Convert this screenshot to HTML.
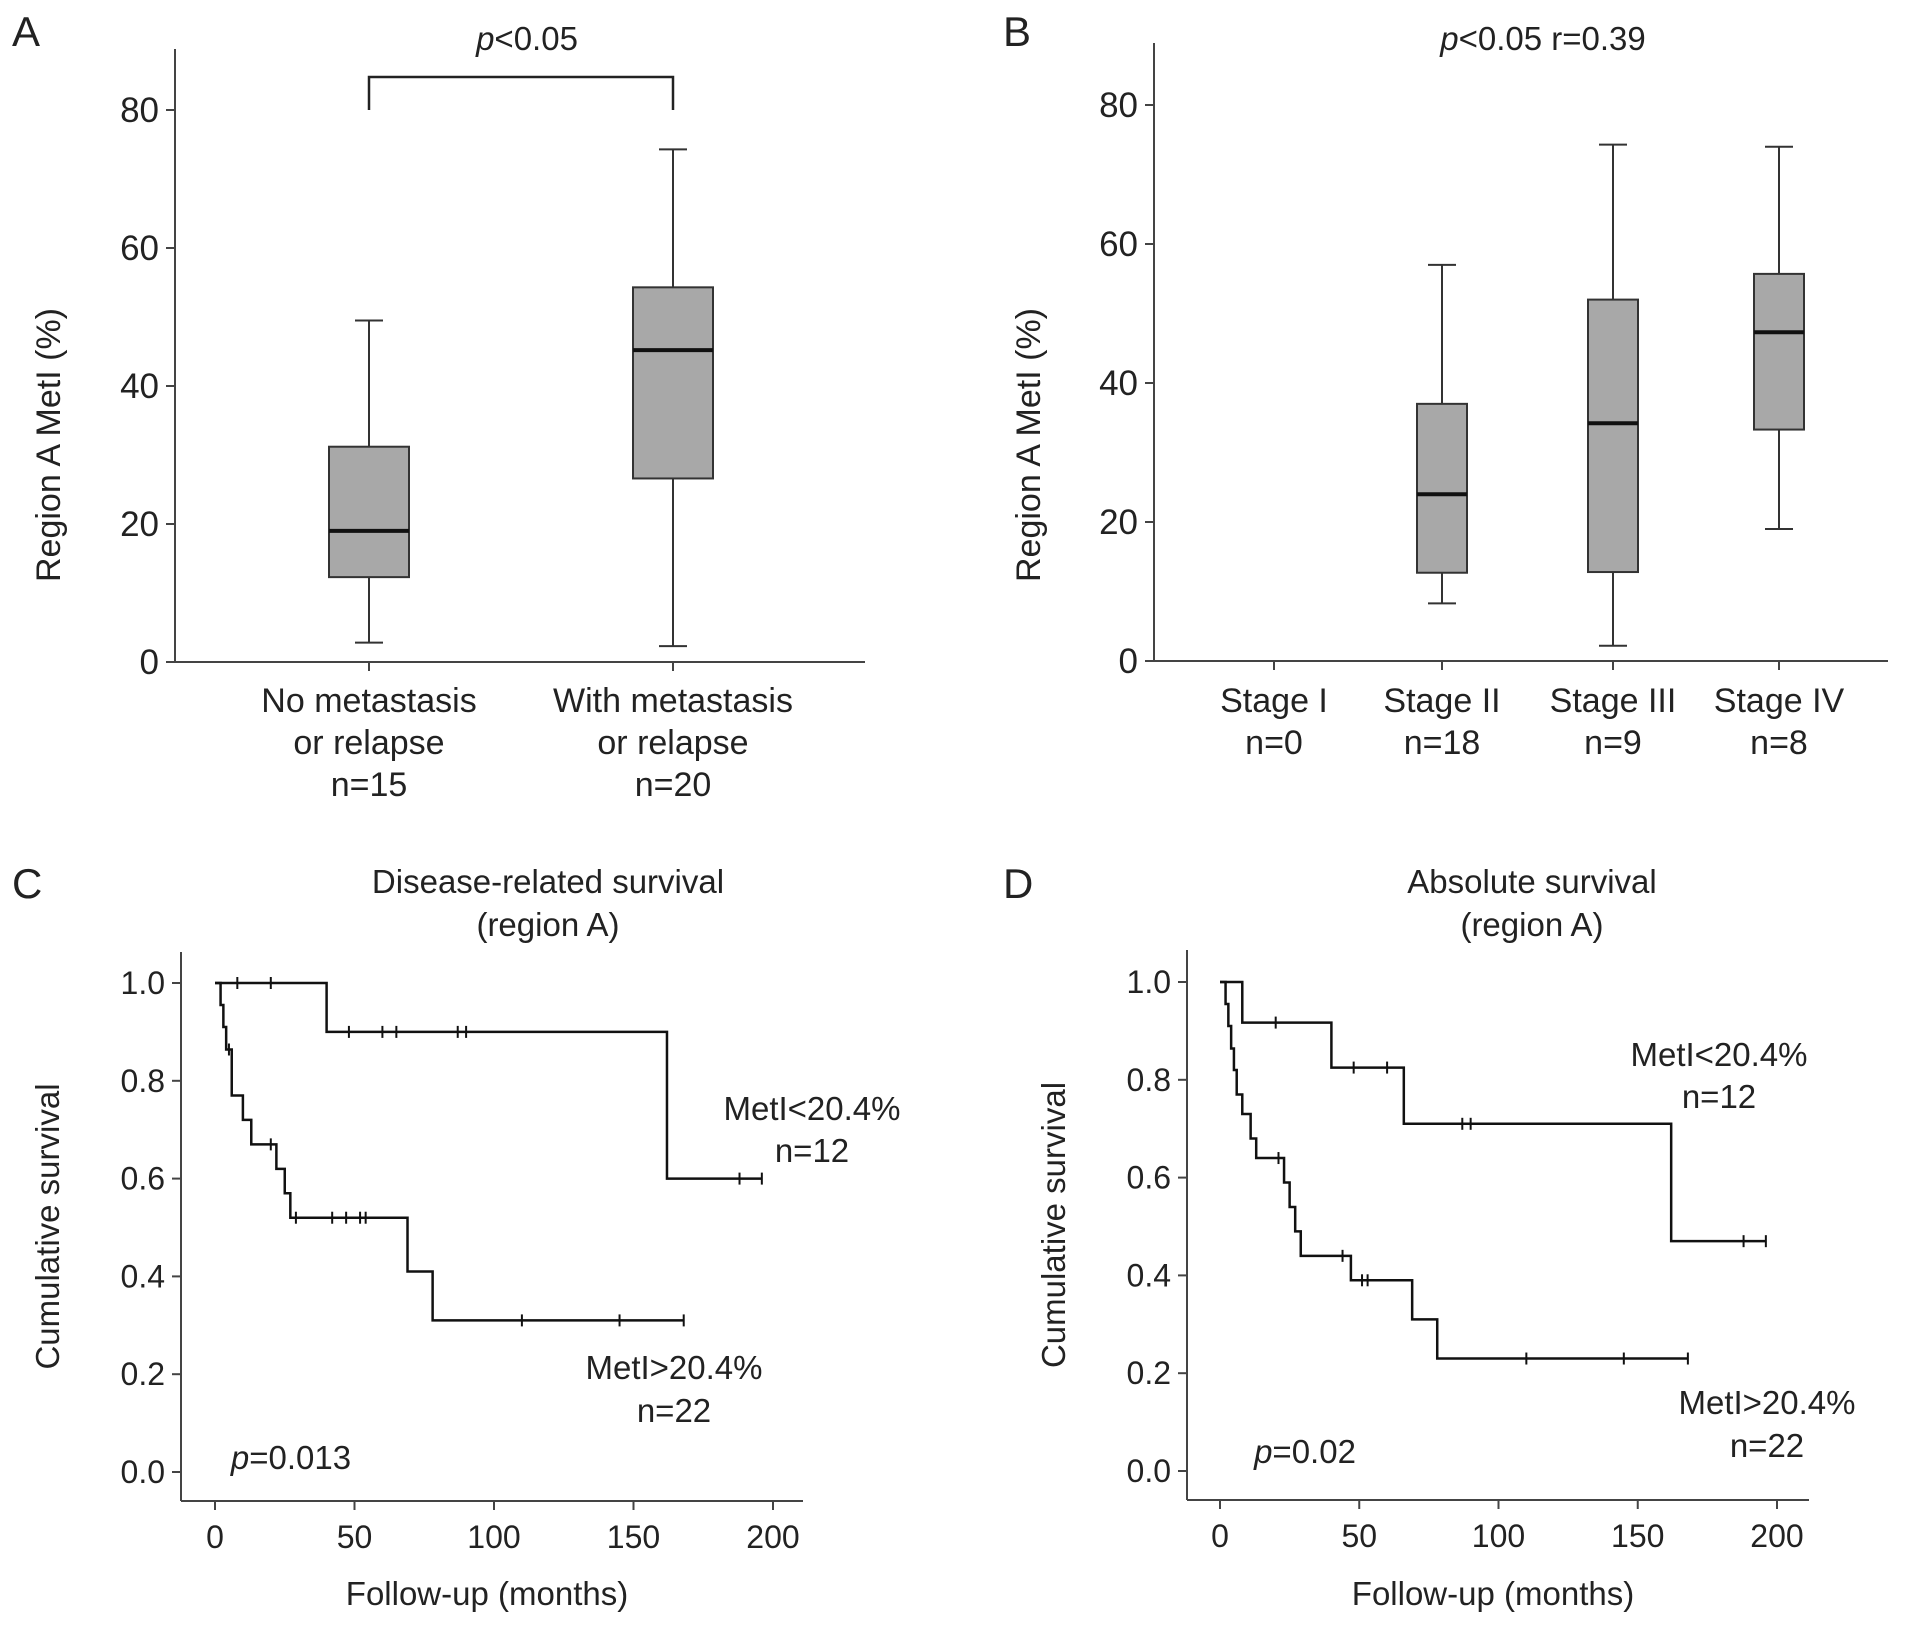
<!DOCTYPE html>
<html><head><meta charset="utf-8"><style>
html,body{margin:0;padding:0;background:#fff;}
svg{display:block;font-family:"Liberation Sans",sans-serif;}
</style></head><body>
<svg id="fig" width="1913" height="1627" viewBox="0 0 1913 1627" xmlns="http://www.w3.org/2000/svg"></svg>
<script>
// ---- Panel A data ----
const aCategories = [["No metastasis","or relapse","n=15"],["With metastasis","or relapse","n=20"]];
const aLow = [2.8, 2.3];
const aQ1 = [12.3, 26.6];
const aMedian = [19, 45.2];
const aQ3 = [31.2, 54.3];
const aHigh = [49.5, 74.3];
const yTicksAB = [0, 20, 40, 60, 80];
// ---- Panel B data ----
const bCategories = [["Stage I","n=0"],["Stage II","n=18"],["Stage III","n=9"],["Stage IV","n=8"]];
const bLow = [null, 8.3, 2.2, 19];
const bQ1 = [null, 12.7, 12.8, 33.3];
const bMedian = [null, 24, 34.2, 47.3];
const bQ3 = [null, 37, 52, 55.7];
const bHigh = [null, 57, 74.3, 74];
// ---- Panel C data (KM) ----
const cLowTimes = [0, 40, 162, 196];
const cLowSurv = [1.0, 0.9, 0.6, 0.6];
const cLowCens = [8, 20, 48, 60, 65, 87, 90, 188, 196];
const cHighTimes = [0, 2, 3, 4, 6, 10, 13, 22, 25, 27, 69, 78, 168];
const cHighSurv = [1.0, 0.955, 0.91, 0.864, 0.77, 0.72, 0.67, 0.62, 0.57, 0.52, 0.41, 0.31, 0.31];
const cHighCens = [5, 20, 29, 42, 47, 52, 54, 110, 145, 168];
// ---- Panel D data (KM) ----
const dLowTimes = [0, 8, 40, 66, 162, 196];
const dLowSurv = [1.0, 0.917, 0.825, 0.71, 0.47, 0.47];
const dLowCens = [20, 48, 60, 87, 90, 188, 196];
const dHighTimes = [0, 2, 3, 4, 5, 6, 8, 11, 13, 23, 25, 27, 29, 47, 69, 78, 168];
const dHighSurv = [1.0, 0.955, 0.91, 0.864, 0.82, 0.77, 0.73, 0.68, 0.64, 0.59, 0.54, 0.49, 0.44, 0.39, 0.31, 0.23, 0.23];
const dHighCens = [21, 44, 51, 53, 110, 145, 168];
const survTicks = [0, 0.2, 0.4, 0.6, 0.8, 1.0];
const timeTicks = [0, 50, 100, 150, 200];

const NS = "http://www.w3.org/2000/svg";
const svg = document.getElementById('fig');
function mk(tag, attrs, parent){const e=document.createElementNS(NS,tag);for(const k in attrs)e.setAttribute(k,attrs[k]);(parent||svg).appendChild(e);return e;}
function txt(x,y,s,size,anchor,parent,italicP){const t=mk('text',{x:x,y:y,'font-size':size,'text-anchor':anchor||'middle',fill:'#222'},parent);
  if(italicP){const ts=mk('tspan',{'font-style':'italic'},t);ts.textContent='p';const r=mk('tspan',{},t);r.textContent=s;}else t.textContent=s;return t;}
const AX='#444';

function boxPanel(name, letter, lx, ax, y0, yTop80, top, xEnd, cats, cx, hw, low, q1, med, q3, high){
  const g=mk('g',{});
  
  
  const ys=v=>y0-(v/80)*(y0-yTop80);
  const L=txt(lx,46,letter,42,'start',g);
  
  
  const yAx=mk('line',{x1:ax,y1:top,x2:ax,y2:y0,stroke:AX,'stroke-width':2},g);
  
  
  const xAx=mk('line',{x1:ax,y1:y0,x2:xEnd,y2:y0,stroke:AX,'stroke-width':2},g);
  
  
  yTicksAB.forEach(v=>{mk('line',{x1:ax-9,y1:ys(v),x2:ax,y2:ys(v),stroke:AX,'stroke-width':2},g);
    const t=txt(ax-16,ys(v)+12,String(v),35,'end',g);
    
    });
  cats.forEach((c,i)=>{const x=cx[i];
    mk('line',{x1:x,y1:y0,x2:x,y2:y0+9,stroke:AX,'stroke-width':2},g);
    c.forEach((line,j)=>{const t=txt(x,712+j*42,line,34,'middle',g);
      
      });
    if(low[i]==null)return;
    const bg=mk('g',{},g);
    
    
    mk('line',{x1:x,y1:ys(low[i]),x2:x,y2:ys(high[i]),stroke:'#333','stroke-width':2},bg);
    mk('line',{x1:x-14,y1:ys(low[i]),x2:x+14,y2:ys(low[i]),stroke:'#333','stroke-width':2},bg);
    mk('line',{x1:x-14,y1:ys(high[i]),x2:x+14,y2:ys(high[i]),stroke:'#333','stroke-width':2},bg);
    mk('rect',{x:x-hw,y:ys(q3[i]),width:2*hw,height:ys(q1[i])-ys(q3[i]),fill:'#a8a8a8',stroke:'#333','stroke-width':2},bg);
    mk('line',{x1:x-hw,y1:ys(med[i]),x2:x+hw,y2:ys(med[i]),stroke:'#111','stroke-width':4},bg);
  });
  return {g:g,ys:ys};
}
const A=boxPanel('panel-a-boxplot','A',12,175,662,110,49,865,aCategories,[369,673],40,aLow,aQ1,aMedian,aQ3,aHigh);
let t=txt(60,445,'Region A MetI (%)',34,'middle',A.g);t.setAttribute('transform','rotate(-90 60 445)');


const br=mk('path',{d:'M369 110 V77 H673 V110',fill:'none',stroke:'#222','stroke-width':2.5},A.g);


t=txt(527,50,'<0.05',33,'middle',A.g,true);



const B=boxPanel('panel-b-boxplot','B',1003,1154,661,105,43,1888,bCategories,[1274,1442,1613,1779],25,bLow,bQ1,bMedian,bQ3,bHigh);
t=txt(1040,445,'Region A MetI (%)',34,'middle',B.g);t.setAttribute('transform','rotate(-90 1040 445)');


t=txt(1543,50,'<0.05 r=0.39',33,'middle',B.g,true);



function kmPanel(name, letter, lx, ax, y1, y0, top, xAxY, x0, x200, xEnd, title, titleX, series, labels){
  const g=mk('g',{});
  
  
  const ys=v=>y0-v*(y0-y1), xs=v=>x0+v/200*(x200-x0);
  const L=txt(lx,898,letter,42,'start',g);
  
  
  title.forEach((s,j)=>{const tt=txt(titleX,893+j*43,s,33,'middle',g);
    
    });
  const yAx=mk('line',{x1:ax,y1:top,x2:ax,y2:xAxY,stroke:AX,'stroke-width':2},g);
  
  
  const xAx=mk('line',{x1:ax,y1:xAxY,x2:xEnd,y2:xAxY,stroke:AX,'stroke-width':2},g);
  
  
  survTicks.forEach(v=>{mk('line',{x1:ax-9,y1:ys(v),x2:ax,y2:ys(v),stroke:AX,'stroke-width':2},g);
    const tt=txt(ax-16,ys(v)+11,v.toFixed(1),32,'end',g);
    
    });
  timeTicks.forEach(v=>{mk('line',{x1:xs(v),y1:xAxY,x2:xs(v),y2:xAxY+9,stroke:AX,'stroke-width':2},g);
    const tt=txt(xs(v),xAxY+47,String(v),32,'middle',g);
    
    });
  let tt=txt((ax+xEnd)/2-5,1605,'Follow-up (months)',33,'middle',g);
  
  
  const yc=(top+xAxY)/2;
  tt=txt(ax-122,yc,'Cumulative survival',33,'middle',g);tt.setAttribute('transform','rotate(-90 '+(ax-122)+' '+yc+')');
  
  
  series.forEach((s,si)=>{
    let d='M'+xs(s.t[0])+' '+ys(s.s[0]);
    for(let i=1;i<s.t.length;i++){d+=' H'+xs(s.t[i])+' V'+ys(s.s[i]);}
    const p=mk('path',{d:d,fill:'none',stroke:'#111','stroke-width':2.5},g);
    
    
    s.c.forEach(ct=>{let v=s.s[0];for(let i=0;i<s.t.length;i++){if(s.t[i]<=ct)v=s.s[i];}
      const m=mk('line',{x1:xs(ct),y1:ys(v)-6,x2:xs(ct),y2:ys(v)+6,stroke:'#111','stroke-width':2},g);
      
      });
  });
  labels.forEach(l=>{const tt=txt(l[0],l[1],l[2],33,'middle',g,l[3]);
    
    });
}
kmPanel('panel-c-survival','C',12,181,983,1472,952,1501,215,773,803,['Disease-related survival','(region A)'],548,
  [{name:'curve-metl-low',t:cLowTimes,s:cLowSurv,c:cLowCens},{name:'curve-metl-high',t:cHighTimes,s:cHighSurv,c:cHighCens}],
  [[812,1120,'MetI<20.4%',false,'series-label-low'],[812,1162,'n=12',false,'series-label-low-n'],
   [674,1379,'MetI>20.4%',false,'series-label-high'],[674,1422,'n=22',false,'series-label-high-n'],
   [291,1469,'=0.013',true,'p-value-label']]);
kmPanel('panel-d-survival','D',1003,1187,982,1471,950,1500,1220,1777,1809,['Absolute survival','(region A)'],1532,
  [{name:'curve-metl-low',t:dLowTimes,s:dLowSurv,c:dLowCens},{name:'curve-metl-high',t:dHighTimes,s:dHighSurv,c:dHighCens}],
  [[1719,1066,'MetI<20.4%',false,'series-label-low'],[1719,1108,'n=12',false,'series-label-low-n'],
   [1767,1414,'MetI>20.4%',false,'series-label-high'],[1767,1457,'n=22',false,'series-label-high-n'],
   [1305,1463,'=0.02',true,'p-value-label']]);
</script>
</body></html>
